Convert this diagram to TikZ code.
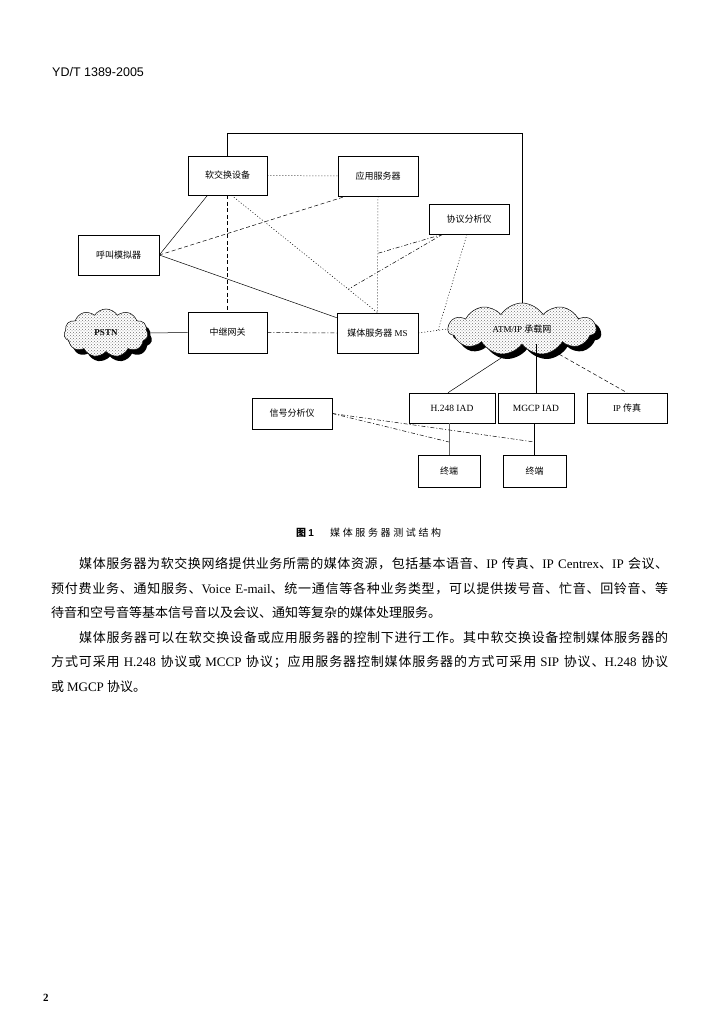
\documentclass[tikz,border=0pt]{standalone}
\usepackage{fontspec}
\setmainfont{Liberation Serif}
\newfontfamily\cjk{Noto Sans CJK SC}
\newfontfamily\hdrfont{Liberation Sans}
\usetikzlibrary{shapes.symbols,patterns,calc}
\newcount\cjkcnt
\cjkcnt="4E00
\loop
  \XeTeXcharclass\cjkcnt=7
  \advance\cjkcnt by 1
\ifnum\cjkcnt<"A000 \repeat
\XeTeXcharclass"3001=7
\XeTeXcharclass"3002=7
\XeTeXcharclass"FF0C=7
\XeTeXcharclass"FF1B=7
\XeTeXinterchartoks 7 7 = {\hskip 0pt plus 1pt\relax}
\XeTeXinterchartokenstate=1
\begin{document}
\begin{tikzpicture}[x=1pt,y=-1pt,
  box/.style={draw,line width=0.6pt,inner sep=0pt,font=\cjk\fontsize{9}{10}\selectfont},
  lbox/.style={box,font=\fontsize{9.5}{10}\selectfont},
  conn/.style={line width=0.5pt},
  dotline/.style={conn,dash pattern=on 1pt off 2pt},
  dashline/.style={conn,dash pattern=on 4pt off 2.5pt},
  dashdot/.style={conn,dash pattern=on 4pt off 2pt on 1pt off 2pt},
  cloudshape/.style={cloud,cloud puffs=11,cloud puff arc=115,aspect=2.5,inner sep=0pt},
  body/.style={anchor=base west,inner sep=0pt,font=\fontsize{13}{15}\selectfont}
]
\useasboundingbox (0,0) rectangle (722,1024);
\fill[white] (0,0) rectangle (722,1024);

% header
\node[anchor=base west,inner sep=0pt,font=\hdrfont\fontsize{12.5}{14}\selectfont] (hdr) at (52,77) {YD/T 1389-2005};

% boxes
\node[box,minimum width=79pt,minimum height=39pt] (sw) at (227.5,175.5) {软交换设备};
\node[box,minimum width=80pt,minimum height=40pt] (app) at (378,176) {应用服务器};
\node[box,minimum width=80pt,minimum height=30pt] (proto) at (469,219) {协议分析仪};
\node[box,minimum width=81pt,minimum height=40pt] (call) at (118.5,255) {呼叫模拟器};
\node[box,minimum width=79pt,minimum height=41pt] (gw) at (227.5,332.5) {中继网关};
\node[box,minimum width=81pt,minimum height=40pt] (ms) at (377.5,333) {媒体服务器 \fontspec{Liberation Serif}MS};
\node[lbox,minimum width=86pt,minimum height=30pt] (h248) at (452,408) {H.248 IAD};
\node[lbox,minimum width=76pt,minimum height=30pt] (mgcp) at (536,408) {MGCP IAD};
\node[box,minimum width=80pt,minimum height=30pt] (fax) at (627,408) {{\fontspec{Liberation Serif}IP} 传真};
\node[box,minimum width=80pt,minimum height=31pt] (sig) at (292,413.5) {信号分析仪};
\node[box,minimum width=62pt,minimum height=32pt] (t1) at (449,471) {终端};
\node[box,minimum width=63pt,minimum height=32pt] (t2) at (534.5,471) {终端};

% clouds
\node[cloudshape,fill=black,minimum width=84pt,minimum height=48pt] (pstnsh) at (110,338) {};
\node[cloudshape,draw,line width=0.5pt,preaction={fill=white},pattern=crosshatch dots,pattern color=black!55,minimum width=84pt,minimum height=48pt,font=\bfseries\fontsize{9}{10}\selectfont] (pstn) at (106,333) {PSTN};
\node[cloudshape,fill=black,minimum width=148pt,minimum height=52pt] (atmsh) at (527,334) {};
\node[cloudshape,draw,line width=0.5pt,preaction={fill=white},pattern=crosshatch dots,pattern color=black!55,minimum width=148pt,minimum height=52pt,font=\fontsize{9}{10}\selectfont] (atm) at (522,329) {ATM/IP {\cjk 承载网}};

% tap coordinates
\coordinate (swms) at ($(sw.south)+(4,0)$);
\coordinate (tapA) at ($(swms)!0.8!(ms.north)$);
\coordinate (tapB) at ($(app.south)!0.49!(ms.north)$);
\coordinate (tapC) at ($(ms.east)!0.68!(atm.west)$);
\coordinate (tapD) at (t1.north |- 0,442);
\coordinate (tapE) at (t2.north |- 0,442);

% connectors
\draw[conn] (sw.north) -- ++(0,-22) -| (atm.north);
\draw[dotline] (sw.east) -- (app.west);
\draw[conn] (call.east) -- ($(sw.south)+(-20,0)$);
\draw[dashline] (call.east) -- ($(app.south west)+(8,0)$);
\draw[conn] (call.east) -- ($(ms.north west)+(0,5)$);
\draw[dashline] (sw.south) -- (gw.north);
\draw[dotline] (swms) -- (ms.north);
\draw[dotline] (app.south) -- (ms.north);
\draw[dashdot] ($(proto.south west)+(14,0)$) -- (tapB);
\draw[dashdot] ($(proto.south west)+(14,0)$) -- (tapA);
\draw[dotline] ($(proto.south)+(-2,0)$) -- (tapC);
\draw[conn] (pstn.east) -- (gw.west);
\draw[dashdot] (gw.east) -- (ms.west);
\draw[dotline] (ms.east) -- (atm.west);
\draw[conn] (atm.-120) -- ($(h248.north)+(-4,0)$);
\draw[conn] (atm.south -| mgcp.north) -- (mgcp.north);
\draw[dashline] (atm.-35) -- (fax.north);
\draw[conn,black!60] (t1.north |- h248.south) -- (t1.north);
\draw[conn] (t2.north |- mgcp.south) -- (t2.north);
\draw[dashdot] (sig.east) -- (tapD);
\draw[dashdot] (sig.east) -- (tapE);

% caption
\node[anchor=base west,inner sep=0pt,font=\cjk\bfseries\fontsize{10}{12}\selectfont] (capnum) at (296,536) {图 {\hdrfont 1}};
\node[anchor=base west,inner sep=0pt,font=\cjk\fontsize{10}{12}\selectfont] (cap) at (330,536) {\makebox[111pt][s]{媒体服务器测试结构}};

% body text
\node[body] (l1) at (79,568) {\makebox[589pt][s]{{\cjk 媒体服务器为软交换网络提供业务所需的媒体资源，包括基本语音、}IP {\cjk 传真、}IP Centrex{\cjk 、}IP {\cjk 会议、}}};
\node[body] (l2) at (51,593) {\makebox[617pt][s]{{\cjk 预付费业务、通知服务、}Voice E-mail{\cjk 、统一通信等各种业务类型，可以提供拨号音、忙音、回铃音、等}}};
\node[body] (l3) at (51,617) {{\cjk 待音和空号音等基本信号音以及会议、通知等复杂的媒体处理服务。}};
\node[body] (l4) at (79,642) {\makebox[589pt][s]{{\cjk 媒体服务器可以在软交换设备或应用服务器的控制下进行工作。其中软交换设备控制媒体服务器的}}};
\node[body] (l5) at (51,666) {\makebox[617pt][s]{{\cjk 方式可采用 }H.248\ {\cjk 协议或 }MCCP\ {\cjk 协议；应用服务器控制媒体服务器的方式可采用 }SIP\ {\cjk 协议、}H.248\ {\cjk 协议}}};
\node[body] (l6) at (51,691) {{\cjk 或 }MGCP\ {\cjk 协议。}};

% page number
\node[anchor=base west,inner sep=0pt,font=\bfseries\fontsize{11}{12}\selectfont] (pg) at (43,1001) {2};
\end{tikzpicture}
\end{document}
